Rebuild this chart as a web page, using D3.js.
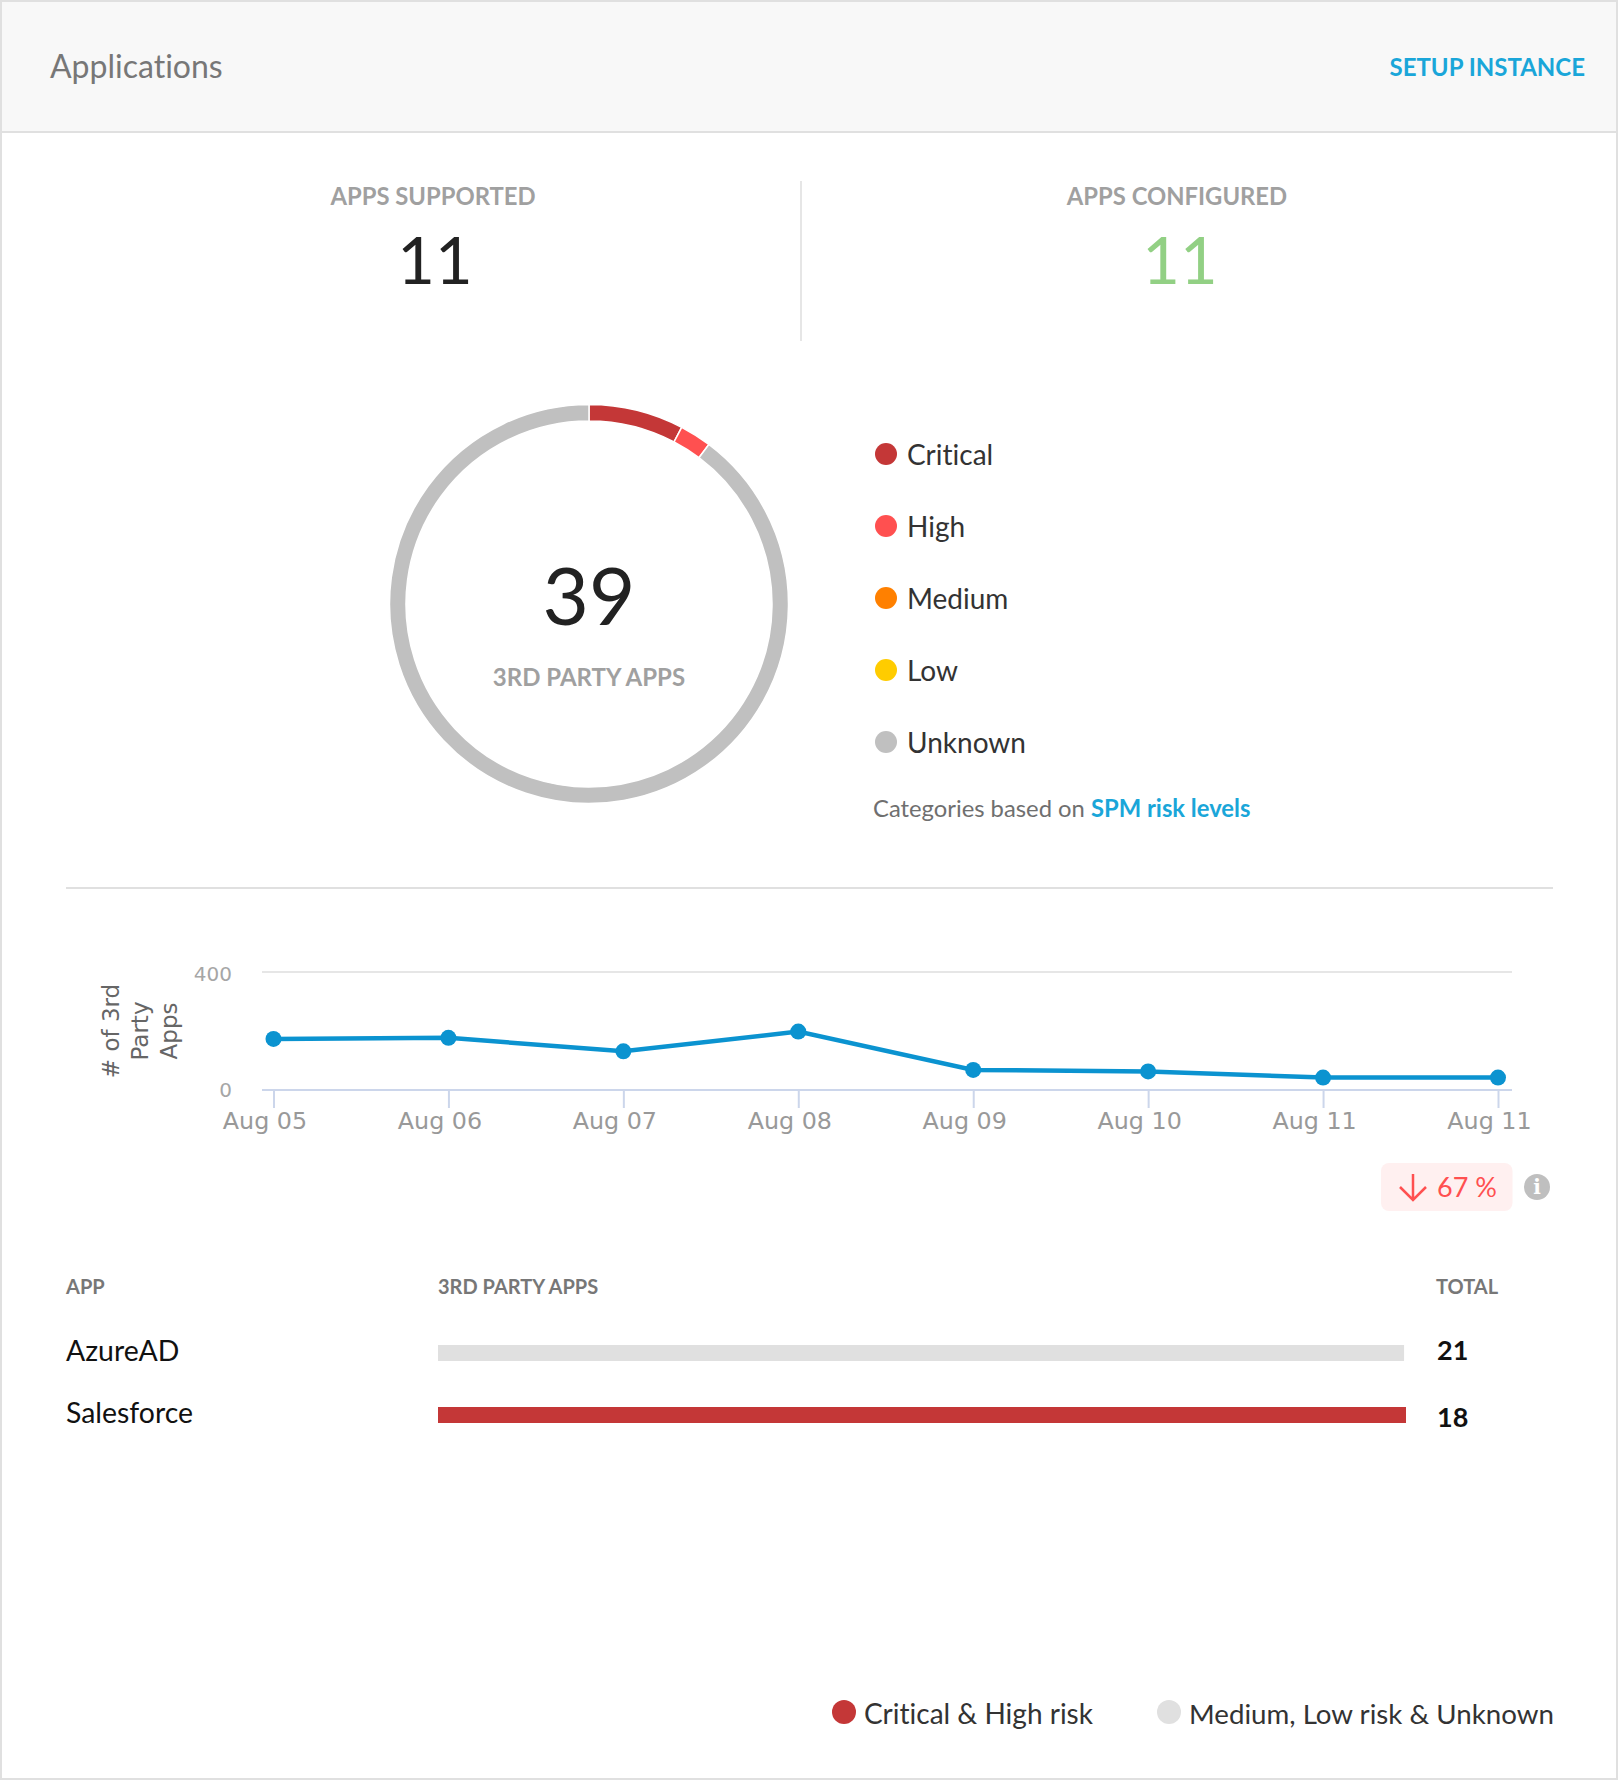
<!DOCTYPE html>
<html>
<head>
    <title>Applications</title>
    <script src="https://d3js.org/d3.v7.min.js"></script>
    <style>
        body { margin: 0; background: #fff; }
        svg { display: block; }
        text { font-family: Lato, sans-serif; font-variant-ligatures: none; }
        .axis text, .axis-title { font-family: "DejaVu Sans", sans-serif; }
    </style>
</head>
<body>
    <svg id="chart" width="1618" height="1780"></svg>

    <script>
        var riskLevels = ["Critical", "High", "Medium", "Low", "Unknown"];
        var riskCounts = [3, 1, 0, 0, 35];
        var riskColors = ["#c43737", "#ff5050", "#ff8000", "#ffcc00", "#c0c0c0"];

        var trendDates = ["Aug 05", "Aug 06", "Aug 07", "Aug 08", "Aug 09", "Aug 10", "Aug 11", "Aug 11"];
        var trendValues = [173, 177, 131, 198, 68, 63, 42, 42];
        var trendTicks = [0, 400];

        var appNames = ["AzureAD", "Salesforce"];
        var appTotals = [21, 18];
        var appShares = [0.998, 1];
        var appColors = ["#e0e0e0", "#c43737"];

        var svg = d3.select("#chart");

        function label(x, y, str, size, color, weight, anchor) {
            return svg.append("text")
                .attr("x", x)
                .attr("y", y)
                .attr("font-size", size)
                .attr("fill", color)
                .attr("font-weight", weight || 400)
                .attr("text-anchor", anchor || "start")
                .text(str);
        }

        // card frame and header
        svg.append("rect").attr("x", 1).attr("y", 1).attr("width", 1616).attr("height", 1778)
            .attr("fill", "#fff").attr("stroke", "#e0e0e0").attr("stroke-width", 2);
        svg.append("rect").attr("x", 2).attr("y", 2).attr("width", 1614).attr("height", 129).attr("fill", "#f8f8f8");
        svg.append("rect").attr("x", 0).attr("y", 131).attr("width", 1618).attr("height", 2).attr("fill", "#e0e0e0");
        label(50, 78, "Applications", 32, "#777", 400);
        label(1585, 76, "SETUP INSTANCE", 24, "#1aa6d9", 700, "end");

        // counters
        label(433, 205, "APPS SUPPORTED", 23.8, "#a0a0a0", 700, "middle");
        label(435, 284, "11", 65, "#222", 400, "middle");
        label(1177, 205, "APPS CONFIGURED", 23.8, "#a0a0a0", 700, "middle");
        label(1180, 284, "11", 65, "#92d084", 400, "middle");
        svg.append("rect").attr("x", 800).attr("y", 181).attr("width", 2).attr("height", 160).attr("fill", "#e6e6e6");

        // donut
        var pie = d3.pie().sort(null).value(function(d) { return d.count; });
        var arc = d3.arc().innerRadius(183).outerRadius(199.5);
        var riskData = riskLevels.map(function(name, i) {
            return { name: name, count: riskCounts[i], color: riskColors[i] };
        });
        svg.append("g").attr("transform", "translate(589,604)")
            .selectAll("path")
            .data(pie(riskData).filter(function(d) { return d.value > 0; }))
            .enter().append("path")
            .attr("d", arc)
            .attr("fill", function(d) { return d.data.color; })
            .attr("stroke", "#fff")
            .attr("stroke-width", 1.5);
        label(589, 625, d3.sum(riskCounts), 80, "#222", 400, "middle");
        label(589, 686, "3RD PARTY APPS", 24, "#a0a0a0", 700, "middle");

        // risk legend
        riskLevels.forEach(function(name, i) {
            var y = 454 + i * 72;
            svg.append("circle").attr("cx", 886).attr("cy", y).attr("r", 11).attr("fill", riskColors[i]);
            label(907, y + 11, name, 28, "#333", 400);
        });
        var note = label(873, 817, "Categories based on ", 23.8, "#6f6f6f", 400);
        note.append("tspan").attr("fill", "#1aa6d9").attr("font-weight", 700).text("SPM risk levels");

        svg.append("rect").attr("x", 66).attr("y", 887).attr("width", 1487).attr("height", 2).attr("fill", "#e0e0e0");

        // trend line
        var x = d3.scaleLinear().domain([0, trendDates.length - 1]).range([273.5, 1498]);
        var y = d3.scaleLinear().domain([0, 400]).range([1090, 972]);

        svg.selectAll(".grid").data(trendTicks).enter().append("line")
            .attr("x1", 262).attr("x2", 1512)
            .attr("y1", function(d) { return y(d); })
            .attr("y2", function(d) { return y(d); })
            .attr("stroke", function(d) { return d === 0 ? "#ccd6eb" : "#e6e6e6"; })
            .attr("stroke-width", 2);

        var xAxis = d3.axisBottom(x)
            .tickValues(d3.range(trendDates.length))
            .tickFormat(function(d) { return trendDates[d]; })
            .tickSize(18);
        var xAxisG = svg.append("g").attr("class", "axis").attr("transform", "translate(0,1090)").call(xAxis);
        xAxisG.select(".domain").remove();
        xAxisG.selectAll("line").attr("stroke", "#ccd6eb").attr("stroke-width", 2);
        xAxisG.selectAll("text")
            .attr("y", 39).attr("dy", 0).attr("dx", -9)
            .attr("font-size", 23.8).attr("fill", "#999");

        var yAxis = d3.axisLeft(y).tickValues(trendTicks).tickSize(0).tickPadding(30);
        var yAxisG = svg.append("g").attr("class", "axis").attr("transform", "translate(262,0)").call(yAxis);
        yAxisG.select(".domain").remove();
        yAxisG.selectAll("text")
            .attr("dy", function(d) { return d === 0 ? 6 : 8.5; })
            .attr("font-size", 20).attr("fill", "#a6a6a6");

        ["# of 3rd", "Party", "Apps"].forEach(function(line, i) {
            svg.append("text").attr("class", "axis-title")
                .attr("transform", "translate(" + (119 + i * 29) + ",1031) rotate(-90)")
                .attr("text-anchor", "middle")
                .attr("font-size", 23)
                .attr("fill", "#666")
                .text(line);
        });

        var line = d3.line()
            .x(function(d, i) { return x(i); })
            .y(function(d) { return y(d); });
        svg.append("path").datum(trendValues)
            .attr("d", line)
            .attr("fill", "none")
            .attr("stroke", "#0b93d0")
            .attr("stroke-width", 4.5);
        svg.selectAll(".dot").data(trendValues).enter().append("circle")
            .attr("cx", function(d, i) { return x(i); })
            .attr("cy", function(d) { return y(d); })
            .attr("r", 8)
            .attr("fill", "#0b93d0");

        // change badge
        svg.append("rect").attr("x", 1381).attr("y", 1163).attr("width", 131.5).attr("height", 48).attr("rx", 8).attr("fill", "#fff0f0");
        svg.append("path").attr("d", "M1413 1174V1200M1400 1187L1413 1200L1426 1187")
            .attr("fill", "none").attr("stroke", "#ff5050").attr("stroke-width", 2.5);
        label(1437, 1197, "67 %", 27, "#ff5050", 400);
        svg.append("circle").attr("cx", 1537).attr("cy", 1187).attr("r", 13).attr("fill", "#bfbfbf");
        label(1537, 1194, "i", 20, "#fff", 900, "middle").style("font-family", "'DejaVu Serif', serif");

        // apps table
        label(66, 1293.5, "APP", 20, "#777", 700);
        label(438, 1293.5, "3RD PARTY APPS", 20, "#777", 700);
        label(1436, 1293.5, "TOTAL", 20, "#777", 700);

        var barX = d3.scaleLinear().domain([0, 1]).range([438, 1406]);
        var barY = d3.scaleBand().domain(appNames).range([1345, 1423]).paddingInner(0.742);
        svg.selectAll(".bar").data(appNames).enter().append("rect")
            .attr("x", barX(0))
            .attr("y", function(d) { return barY(d); })
            .attr("width", function(d, i) { return barX(appShares[i]) - barX(0); })
            .attr("height", barY.bandwidth())
            .attr("fill", function(d, i) { return appColors[i]; });
        appNames.forEach(function(name, i) {
            label(66, 1361 + i * 62, name, 28.4, "#111", 400);
            label(1437, 1360 + i * 66.5, appTotals[i], 27, "#111", 700);
        });

        // bottom legend
        svg.append("circle").attr("cx", 844).attr("cy", 1712).attr("r", 12).attr("fill", "#c43737");
        label(864, 1724, "Critical & High risk", 28, "#333", 400);
        svg.append("circle").attr("cx", 1169).attr("cy", 1712).attr("r", 12).attr("fill", "#e0e0e0");
        label(1189, 1724, "Medium, Low risk & Unknown", 27.7, "#333", 400);
    </script>
</body>
</html>
